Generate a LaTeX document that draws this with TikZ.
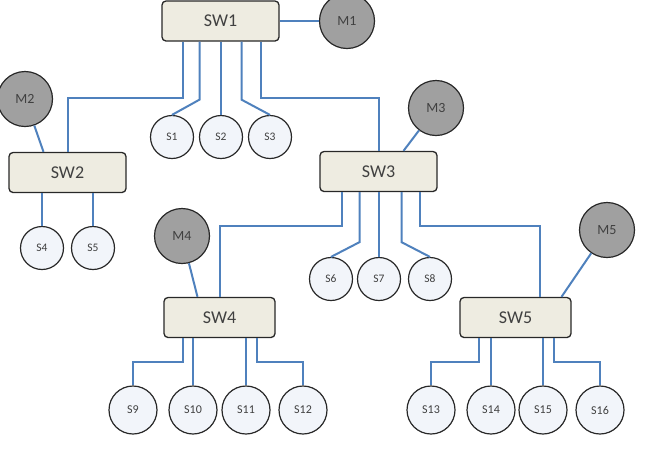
\documentclass[tikz,border=0pt]{standalone}
\usepackage{fontspec}
\setmainfont{Carlito}
\usepackage{tikz}
\usetikzlibrary{positioning, shapes, calc}
\definecolor{LinkBlue}{RGB}{79, 129, 189}
\definecolor{SwitchFill}{RGB}{238, 236, 225}
\definecolor{HostFill}{RGB}{242, 245, 250}
\definecolor{MonGray}{RGB}{160, 160, 160}
\definecolor{EdgeDark}{RGB}{40, 40, 40}
\definecolor{TextGray}{RGB}{64, 64, 64}

\tikzset{
  switch/.style={draw=EdgeDark, line width=1.3pt, fill=SwitchFill, rounded corners=4pt,
    minimum width=117pt, minimum height=40pt, inner sep=0pt, text=TextGray,
    font=\fontsize{18}{20}\selectfont},
  host/.style={circle, draw=EdgeDark, line width=1.2pt, fill=HostFill, minimum size=43pt,
    inner sep=0pt, text=TextGray, font=\fontsize{11.5}{13}\selectfont},
  bighost/.style={host, minimum size=48pt, font=\fontsize{12}{14}\selectfont},
  monitor/.style={circle, draw=EdgeDark, line width=1.2pt, fill=MonGray, minimum size=55pt,
    inner sep=0pt, text=TextGray, font=\fontsize{14}{16}\selectfont},
  link/.style={LinkBlue, line width=2pt}
}

\begin{document}
\begin{tikzpicture}[x=1pt, y=-1pt]
    \useasboundingbox (0,0) rectangle (653,451);

    % Switches
    \node[switch] (sw1) at (220.5, 21) {SW1};
    \node[switch] (sw2) at (67.5, 172.5) {SW2};
    \node[switch] (sw3) at (378.5, 171.5) {SW3};
    \node[switch, minimum width=111pt] (sw4) at (219.5, 317.5) {SW4};
    \node[switch, minimum width=111pt] (sw5) at (515.5, 317.5) {SW5};

    % Monitors
    \node[monitor] (m1) at (347, 21) {M1};
    \node[monitor] (m2) at (25, 99) {M2};
    \node[monitor] (m3) at (436, 108) {M3};
    \node[monitor] (m4) at (182, 236) {M4};
    \node[monitor] (m5) at (607, 230) {M5};

    % Hosts
    \node[host] (s1) at (172, 137) {S1};
    \node[host] (s2) at (221, 137) {S2};
    \node[host] (s3) at (270, 137) {S3};
    \node[host] (s4) at (42, 248) {S4};
    \node[host] (s5) at (93, 248) {S5};
    \node[host] (s6) at (331, 279) {S6};
    \node[host] (s7) at (379, 279) {S7};
    \node[host] (s8) at (430, 279) {S8};
    \node[bighost] (s9) at (133, 410) {S9};
    \node[bighost] (s10) at (193, 410) {S10};
    \node[bighost] (s11) at (246, 410) {S11};
    \node[bighost] (s12) at (303, 410) {S12};
    \node[bighost] (s13) at (431, 410) {S13};
    \node[bighost] (s14) at (491, 410) {S14};
    \node[bighost] (s15) at (543, 410) {S15};
    \node[bighost] (s16) at (600, 410) {S16};

    % Monitor links
    \draw[link] (sw1.east) -- (m1);
    \draw[link] (m2) -- ([xshift=-24]sw2.north);
    \draw[link] (m3) -- ([xshift=25]sw3.north);
    \draw[link] (m4) -- ([xshift=-22]sw4.north);
    \draw[link] (m5) -- ([xshift=46]sw5.north);

    % SW1 links
    \draw[link] ([xshift=-38]sw1.south) -- ++(0,56) -| (sw2.north);
    \draw[link] ([xshift=-21]sw1.south) -- ++(0,58) -- (s1.north);
    \draw[link] (sw1.south -| s2.north) -- (s2.north);
    \draw[link] ([xshift=21]sw1.south) -- ++(0,58) -- (s3.north);
    \draw[link] ([xshift=40]sw1.south) -- ++(0,56) -| (sw3.north);

    % SW2 links
    \draw[link] (sw2.south -| s4.north) -- (s4.north);
    \draw[link] (sw2.south -| s5.north) -- (s5.north);

    % SW3 links
    \draw[link] ([xshift=-37]sw3.south) -- ++(0,34) -| (sw4.north);
    \draw[link] ([xshift=-19]sw3.south) -- ++(0,50) -- (s6.north);
    \draw[link] (sw3.south -| s7.north) -- (s7.north);
    \draw[link] ([xshift=23]sw3.south) -- ++(0,50) -- (s8.north);
    \draw[link] ([xshift=41]sw3.south) -- ++(0,34) -| ([xshift=24]sw5.north);

    % SW4 links
    \draw[link] ([xshift=-37]sw4.south) -- ++(0,24) -| (s9.north);
    \draw[link] (sw4.south -| s10.north) -- (s10.north);
    \draw[link] (sw4.south -| s11.north) -- (s11.north);
    \draw[link] ([xshift=37]sw4.south) -- ++(0,24) -| (s12.north);

    % SW5 links
    \draw[link] ([xshift=-37]sw5.south) -- ++(0,24) -| (s13.north);
    \draw[link] (sw5.south -| s14.north) -- (s14.north);
    \draw[link] (sw5.south -| s15.north) -- (s15.north);
    \draw[link] ([xshift=38]sw5.south) -- ++(0,24) -| (s16.north);
\end{tikzpicture}
\end{document}
